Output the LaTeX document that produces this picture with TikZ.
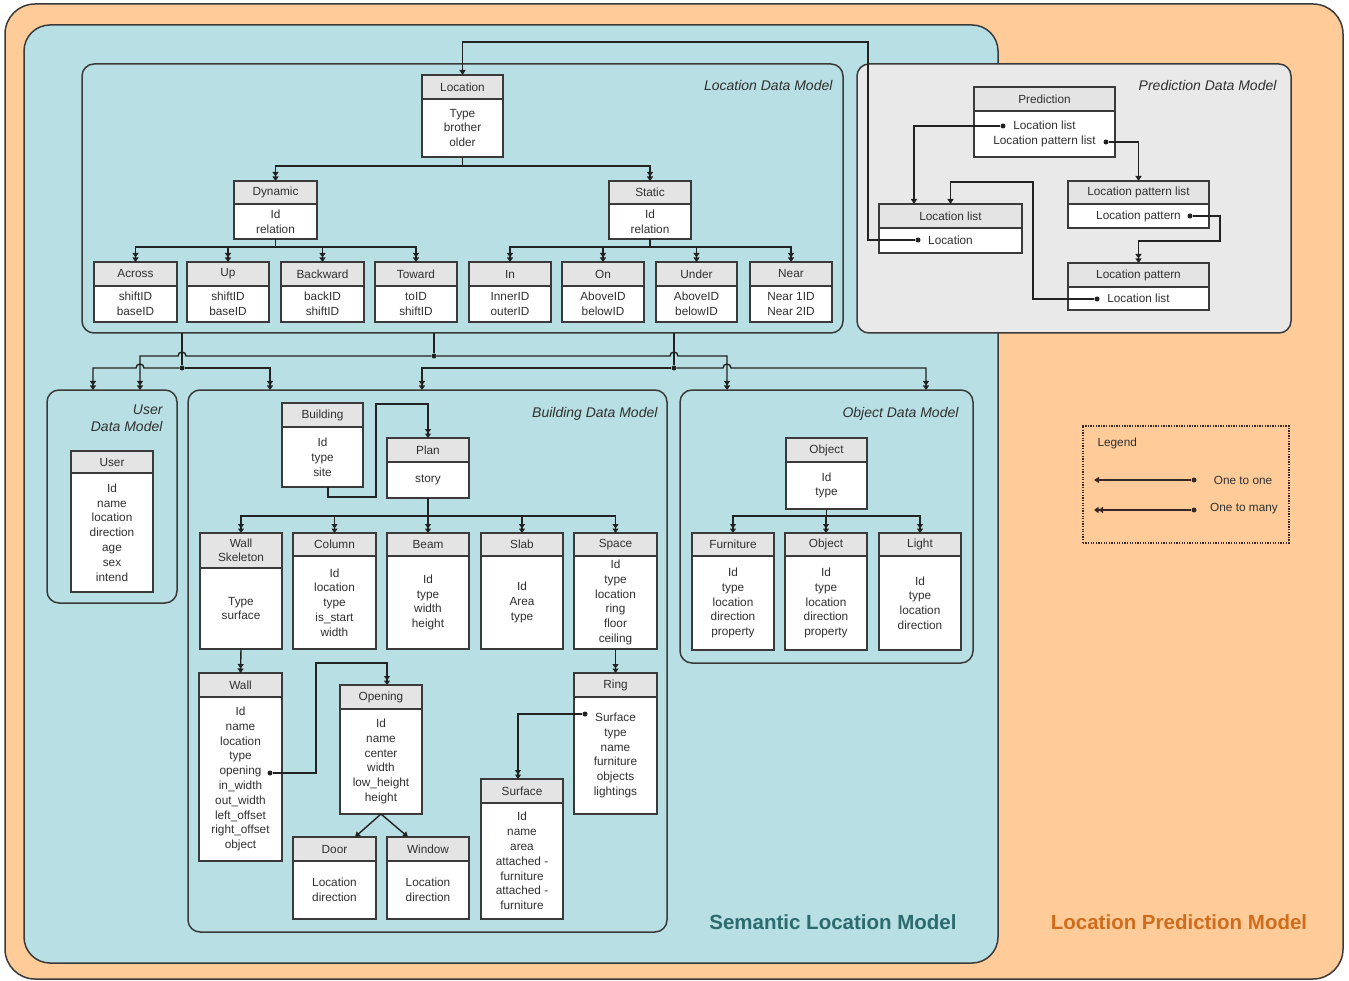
\documentclass[tikz,border=0pt]{standalone}
\usepackage{fontspec}
\setmainfont{Liberation Sans}
\usetikzlibrary{arrows.meta}

\definecolor{peach}{HTML}{FFCC99}
\definecolor{tealbg}{HTML}{B8DFE3}
\definecolor{pgray}{HTML}{E9E9E9}
\definecolor{hdrfill}{HTML}{E4E4E4}
\definecolor{boxline}{HTML}{3A3A3A}
\definecolor{lnc}{HTML}{222222}
\definecolor{txt}{HTML}{303030}
\definecolor{semtxt}{HTML}{2C6B6F}
\definecolor{predtxt}{HTML}{CF6D1D}
\definecolor{legln}{HTML}{3B2626}

% class box: name, x1, y1, x2, y of header bottom, y2, title, attributes
\newcommand\clsbox[8]{%
  \node[hdr, minimum width={#4-#2}, minimum height={#5-#3}] (#1-h) at (#2,#3) {#7};
  \node[bdy, minimum width={#4-#2}, minimum height={#6-#5}] (#1-b) at (#2,#5) {#8};
}

\tikzset{
  hdr/.style={anchor=north west, draw=boxline, fill=hdrfill, line width=1.4pt,
    inner sep=0pt, outer sep=0pt, align=center, text=txt,
    font=\fontsize{11.8}{14}\selectfont},
  bdy/.style={anchor=north west, draw=boxline, fill=white, line width=1.4pt,
    inner sep=0pt, outer sep=0pt, align=center, text=txt,
    font=\fontsize{11.8}{14.8}\selectfont},
  mbox/.style={anchor=north west, draw=boxline, line width=1.5pt,
    rounded corners=12pt, inner sep=0pt, outer sep=0pt},
  mlabel/.style={font=\fontsize{14}{17}\selectfont\itshape, text=txt, align=right},
  jdot/.style={circle, fill=lnc, inner sep=0pt, minimum size=5pt},
  one/.style={draw=lnc, line width=1.4pt, -{Triangle[length=5pt,width=6pt]}},
  many/.style={draw=lnc, line width=1.4pt,
    -{Triangle[length=4.5pt,width=6pt]Triangle[length=4.5pt,width=6pt]}},
  plain/.style={draw=lnc, line width=1.4pt},
  legtext/.style={font=\fontsize{11.8}{14}\selectfont, text=txt},
}

\begin{document}
\begin{tikzpicture}[x=1pt,y=-1pt]
\useasboundingbox (0,0) rectangle (1349,981);

% model frames
\node[mbox, fill=peach, rounded corners=30pt, minimum width=1338, minimum height=975] (lpm) at (5,4) {};
\node[mbox, fill=tealbg, rounded corners=26pt, minimum width=974, minimum height=938] (slm) at (24,25) {};
\node[mbox, fill=tealbg, minimum width=761, minimum height=269] (ldm) at (82,64) {};
\node[mbox, fill=pgray, minimum width=434, minimum height=269] (pdm) at (857,64) {};
\node[mbox, fill=tealbg, minimum width=130, minimum height=213] (udm) at (47,390) {};
\node[mbox, fill=tealbg, minimum width=479, minimum height=542] (bdm) at (188,390) {};
\node[mbox, fill=tealbg, minimum width=293, minimum height=273] (odm) at (680,390) {};

\node[mlabel, anchor=east] (ldmlab) at (836,86) {Location Data Model};
\node[mlabel, anchor=east] (pdmlab) at (1280,86) {Prediction Data Model};
\node[mlabel, anchor=north east] (udmlab) at (166,401) {User\\Data Model};
\node[mlabel, anchor=east] (bdmlab) at (661,414) {Building Data Model};
\node[mlabel, anchor=east] (odmlab) at (962,414) {Object Data Model};

% location data model
\clsbox{loc}{422}{75}{503}{99}{157}{Location}{Type\\brother\\older}
\clsbox{dyn}{234}{181}{317}{204}{239}{Dynamic}{Id\\relation}
\clsbox{sta}{609}{181}{691}{204}{239}{Static}{Id\\relation}
\clsbox{across}{94}{262}{177}{286}{322}{Across}{shiftID\\baseID}
\clsbox{rup}{187}{262}{269}{286}{322}{Up}{shiftID\\baseID}
\clsbox{back}{281}{262}{364}{286}{322}{Backward}{backID\\shiftID}
\clsbox{toward}{375}{262}{457}{286}{322}{Toward}{toID\\shiftID}
\clsbox{rin}{469}{262}{551}{286}{322}{In}{InnerID\\outerID}
\clsbox{ron}{562}{262}{644}{286}{322}{On}{AboveID\\belowID}
\clsbox{runder}{656}{262}{737}{286}{322}{Under}{AboveID\\belowID}
\clsbox{rnear}{750}{262}{832}{286}{322}{Near}{Near 1ID\\Near 2ID}

% prediction data model
\clsbox{pred}{974}{87}{1115}{111}{157}{Prediction}{Location list\\Location pattern list}
\clsbox{llist}{879}{204}{1022}{228}{253}{Location list}{Location}
\clsbox{lplist}{1068}{181}{1209}{204}{228}{Location pattern list}{Location pattern}
\clsbox{lpat}{1068}{263}{1209}{287}{310}{Location pattern}{Location list}

% user data model
\clsbox{user}{71}{451}{153}{473}{592}{User}{Id\\name\\location\\direction\\age\\sex\\intend}

% building data model
\clsbox{bldg}{282}{403}{363}{427}{487}{Building}{Id\\type\\site}
\clsbox{plan}{387}{438}{469}{462}{498}{Plan}{story}
\clsbox{wsk}{200}{533}{282}{568}{649}{Wall\\Skeleton}{Type\\surface}
\clsbox{col}{293}{533}{376}{556}{649}{Column}{Id\\location\\type\\is\_start\\width}
\clsbox{beam}{387}{533}{469}{556}{649}{Beam}{Id\\type\\width\\height}
\clsbox{slab}{481}{533}{563}{556}{649}{Slab}{Id\\Area\\type}
\clsbox{space}{574}{533}{657}{556}{649}{Space}{Id\\type\\location\\ring\\floor\\ceiling}
\clsbox{wall}{199}{673}{282}{697}{861}{Wall}{Id\\name\\location\\type\\opening\\in\_width\\out\_width\\left\_offset\\right\_offset\\object}
\clsbox{open}{340}{685}{422}{709}{814}{Opening}{Id\\name\\center\\width\\low\_height\\height}
\clsbox{door}{293}{837}{376}{861}{919}{Door}{Location\\direction}
\clsbox{window}{387}{837}{469}{861}{919}{Window}{Location\\direction}
\clsbox{surf}{481}{779}{563}{803}{919}{Surface}{Id\\name\\area\\attached -\\furniture\\attached -\\furniture}
\clsbox{ring}{574}{673}{657}{697}{814}{Ring}{Surface\\type\\name\\furniture\\objects\\lightings}

% object data model
\clsbox{objt}{786}{438}{867}{462}{509}{Object}{Id\\type}
\clsbox{furn}{692}{533}{774}{556}{650}{Furniture}{Id\\type\\location\\direction\\property}
\clsbox{objc}{785}{533}{867}{556}{650}{Object}{Id\\type\\location\\direction\\property}
\clsbox{light}{879}{533}{961}{556}{650}{Light}{Id\\type\\location\\direction}

% reference points and junctions
\node[jdot] (dLoc) at (918,240) {};
\node[jdot] (dPL) at (1003,126) {};
\node[jdot] (dPP) at (1106,142) {};
\node[jdot] (dLP) at (1190,216) {};
\node[jdot] (dLL) at (1097,299) {};
\node[jdot] (dWO) at (270,773) {};
\node[jdot] (dRS) at (585,714) {};
\node[jdot] (jA) at (182,368) {};
\node[jdot] (jB) at (434,356) {};
\node[jdot] (jC) at (674,368) {};

% location hierarchy
\draw[many] (loc-b.south) -- ++(0,9) -| (dyn-h.north);
\draw[many] (loc-b.south) -- ++(0,9) -| (sta-h.north);
\foreach \c in {across,rup,back,toward}
  \draw[many] (dyn-b.south) -- ++(0,8) -| (\c-h.north);
\foreach \c in {rin,ron,runder,rnear}
  \draw[many] (sta-b.south) -- ++(0,8) -| (\c-h.north);

% prediction references
\draw[one] (dLoc) -- ++(-50,0) |- ([yshift=33pt]loc-h.north) -- (loc-h.north);
\draw[one] (dPL) -| (914,0 |- llist-h.north);
\draw[one] (dPP) -| (lplist-h.north);
\draw[many] (dLP) -| (1220,241) -| (lpat-h.north);
\draw[one] (dLL) -| (1033,182) -| (llist-h.north);

% links from the location data model to the other models
\draw[plain] (ldm.south -| jA) -- (jA);
\draw[plain] (ldm.south -| jB) -- (jB);
\draw[plain] (ldm.south -| jC) -- (jC);
\draw[many] (jA) -- (144,368) arc (0:-180:4) -- (93,368) -- (93,0 |- udm.north);
\draw[many] (jA) -- (270,368) -- (270,0 |- bdm.north);
\draw[many] (jB) -- (186,356) arc (0:-180:4) -- (140,356) -- (140,0 |- udm.north);
\draw[many] (jB) -- (670,356) arc (180:360:4) -- (727,356) -- (727,0 |- odm.north);
\draw[many] (jC) -- (422,368) -- (422,0 |- bdm.north);
\draw[many] (jC) -- (723,368) arc (180:360:4) -- (926,368) -- (926,0 |- odm.north);

% building hierarchy
\draw[many] (328,0 |- bldg-b.south) -- (328,497) -| (376,404) -| (plan-h.north);
\foreach \c in {wsk,col,beam,slab,space}
  \draw[many] (plan-b.south) -- ++(0,18) -| (\c-h.north);
\draw[many] (wsk-b.south) -- (wall-h.north);
\draw[many] (dWO) -| (316,663) -| (387,0 |- open-h.north);
\draw[one] (open-b.south) -- (355,0 |- door-h.north);
\draw[one] (open-b.south) -- (408,0 |- window-h.north);
\draw[many] (space-b.south) -- (ring-h.north);
\draw[many] (dRS) -| (518,0 |- surf-h.north);

% object hierarchy
\foreach \c in {furn,objc,light}
  \draw[many] (objt-b.south) -- ++(0,7) -| (\c-h.north);

% legend
\node[anchor=north west, draw=legln, dash pattern=on 1.3pt off 1.3pt, line width=1.5pt,
  inner sep=0pt, minimum width=206, minimum height=117] (legend) at (1082,425) {};
\node[legtext, anchor=west] (legtitle) at (1094,443) {Legend};
\node[jdot, fill=legln] (lgA) at (1194,480) {};
\coordinate (lgAe) at (1094,480);
\draw[one, draw=legln] (lgA) -- (lgAe);
\node[legtext] (lgAt) at (1243,480) {One to one};
\node[jdot, fill=legln] (lgB) at (1194,510) {};
\coordinate (lgBe) at (1094,510);
\draw[many, draw=legln] (lgB) -- (lgBe);
\node[legtext] (lgBt) at (1244,509) {One to many};

% model titles
\node[font=\fontsize{20.5}{24}\selectfont\bfseries, text=semtxt] (semlab) at (833,922) {Semantic Location Model};
\node[font=\fontsize{20.5}{24}\selectfont\bfseries, text=predtxt] (predlab) at (1179,922) {Location Prediction Model};
\end{tikzpicture}
\end{document}
